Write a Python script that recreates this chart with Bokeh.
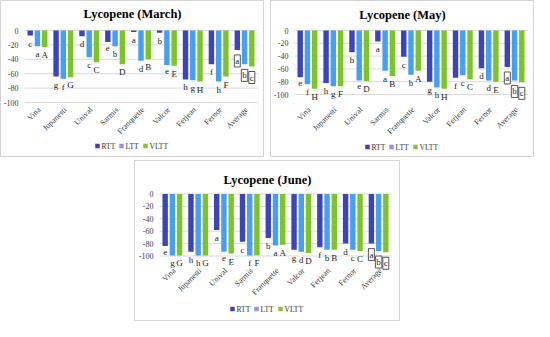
import math
from bokeh.plotting import figure
from bokeh.models import Range1d, ColumnDataSource, Spacer
from bokeh.layouts import column, row
from bokeh.transform import dodge
from bokeh.embed import file_html
from bokeh.resources import INLINE
from bokeh.core.properties import value

cultivars = ["Vina", "Jupanesti", "Unival", "Sarmis", "Franquette", "Valcor", "Ferjean", "Fernor", "Average"]
series_names = ["RTT", "LTT", "VLTT"]
y_ticks = [0, -20, -40, -60, -80, -100]

march_rtt = [-7, -64, -8, -16, -2, -3, -68, -47, -27]
march_ltt = [-22, -67, -37, -22, -42, -48, -69, -71, -47]
march_vltt = [-23, -65, -44, -47, -40, -49, -71, -64, -50]
march_rtt_letters = ["c", "g", "d", "e", "a", "b", "h", "f", "a"]
march_ltt_letters = ["a", "f", "c", "b", "d", "e", "g", "h", "b"]
march_vltt_letters = ["A", "G", "C", "D", "B", "E", "H", "F", "c"]

may_rtt = [-73, -82, -34, -17, -41, -80, -74, -59, -57]
may_ltt = [-84, -87, -78, -63, -69, -89, -70, -78, -78]
may_vltt = [-91, -87, -79, -71, -63, -91, -76, -80, -81]
may_rtt_letters = ["e", "h", "b", "a", "c", "g", "f", "d", "a"]
may_ltt_letters = ["f", "g", "e", "a", "b", "h", "c", "d", "b"]
may_vltt_letters = ["H", "F", "D", "B", "A", "H", "C", "E", "c"]

june_rtt = [-84, -93, -58, -77, -71, -90, -86, -80, -80]
june_ltt = [-99, -99, -93, -99, -83, -93, -90, -90, -92]
june_vltt = [-99, -99, -96, -99, -82, -95, -90, -92, -94]
june_rtt_letters = ["e", "h", "a", "c", "b", "g", "f", "d", "a"]
june_ltt_letters = ["g", "h", "e", "f", "a", "d", "b", "c", "b"]
june_vltt_letters = ["G", "G", "E", "F", "A", "D", "B", "C", "c"]

COLORS = ["#3a45bd", "#45a0f2", "#7dc42a"]
LEGEND_COLORS = ["#4a3bb0", "#9b8fe0", "#8fbf3a"]
FONT = "Liberation Serif"
OFFS = [-0.28, 0.0, 0.28]


def make_panel(title, vals, letters, W, H, L, RG, top0, bot100, title_py, lab_py, leg_py):
    cw = (W - L - RG) / len(cultivars)
    ppu = (bot100 - top0) / 100.0

    def px2x(px):
        return (px - L) / cw

    def py2y(py):
        return -(py - top0) / ppu

    p = figure(x_range=Range1d(px2x(0), px2x(W)), y_range=Range1d(py2y(H), py2y(0)),
               width=W, height=H, output_backend="svg", toolbar_location=None,
               x_axis_location=None, y_axis_location=None, title=None,
               min_border_left=0, min_border_right=0, min_border_top=0, min_border_bottom=0)
    p.grid.visible = False
    p.outline_line_color = "#d4d4d4"
    p.background_fill_color = "white"
    p.border_fill_color = "white"

    pos = [i + 0.5 for i in range(len(cultivars))]
    data = {"cat": cultivars, "pos": pos}
    for name, v, l in zip(series_names, vals, letters):
        data[name] = v
        data[name + "_l"] = l
    full = ColumnDataSource(data)
    src_main = ColumnDataSource({k: vv[:-1] for k, vv in data.items()})
    src_avg = ColumnDataSource({k: vv[-1:] for k, vv in data.items()})

    # gridlines
    p.segment(x0=0, x1=len(cultivars), y0=y_ticks, y1=y_ticks, line_color="#d9d9d9", line_width=1)
    # y tick labels
    p.text(x=px2x(L - 6), y=y_ticks, text=[str(t) for t in y_ticks], text_font=value(FONT),
           text_font_size="8px", text_align="right", text_baseline="middle", text_color="#404040")

    for name, off, col in zip(series_names, OFFS, COLORS):
        p.vbar(x=dodge("pos", off), top=name, bottom=0, width=0.21,
               source=full, fill_color=col, line_color=None)
        p.text(x=dodge("pos", off), y=name, text=name + "_l", source=src_main,
               text_font=value(FONT), text_font_size="9px", text_align="center",
               text_baseline="top", y_offset=3, text_color="#222222")
        p.text(x=dodge("pos", off), y=name, text=name + "_l", source=src_avg,
               text_font=value(FONT), text_font_size="9px", text_align="center",
               text_baseline="top", y_offset=5, text_color="#222222",
               border_line_color="#555555", border_line_width=1, padding=1,
               background_fill_color="white")

    # category labels
    p.text(x="pos", y=py2y(lab_py), text="cat", source=full, x_offset=2,
           angle=math.pi / 4, text_font=value(FONT), text_font_size="8px",
           text_align="right", text_baseline="middle", text_color="#404040")

    # title
    p.text(x=[px2x(W / 2)], y=[py2y(title_py)], text=[title], text_font=value(FONT),
           text_font_size="12.5px", text_font_style="bold", text_align="center",
           text_baseline="middle", text_color="#000000")

    # legend
    for name, col, dx in zip(series_names, LEGEND_COLORS, [-35, -11, 13]):
        mx = W / 2 + dx
        p.rect(x=[px2x(mx)], y=[py2y(leg_py)], width=4.5, height=4.5, width_units="screen",
               height_units="screen", fill_color=col, line_color=None)
        p.text(x=[px2x(mx + 4)], y=[py2y(leg_py)], text=[name], text_font=value(FONT),
               text_font_size="7.5px", text_align="left", text_baseline="middle",
               text_color="#333333")
    return p


p1 = make_panel("Lycopene (March)", [march_rtt, march_ltt, march_vltt],
                [march_rtt_letters, march_ltt_letters, march_vltt_letters],
                264, 157, 24, 7, 30, 102, 13.5, 108, 145.5)
p2 = make_panel("Lycopene (May)", [may_rtt, may_ltt, may_vltt],
                [may_rtt_letters, may_ltt_letters, may_vltt_letters],
                264, 157, 24, 7, 30, 94, 14.5, 108, 146.5)
p3 = make_panel("Lycopene (June)", [june_rtt, june_ltt, june_vltt],
                [june_rtt_letters, june_ltt_letters, june_vltt_letters],
                266, 161, 25, 9, 33.5, 95.5, 19.5, 109, 148.5)

top = row(p1, p2, spacing=6)
bottom = row(Spacer(width=134, height=10), p3)
layout = column(top, bottom, spacing=3)

open("out.html", "w").write(file_html(layout, INLINE))
